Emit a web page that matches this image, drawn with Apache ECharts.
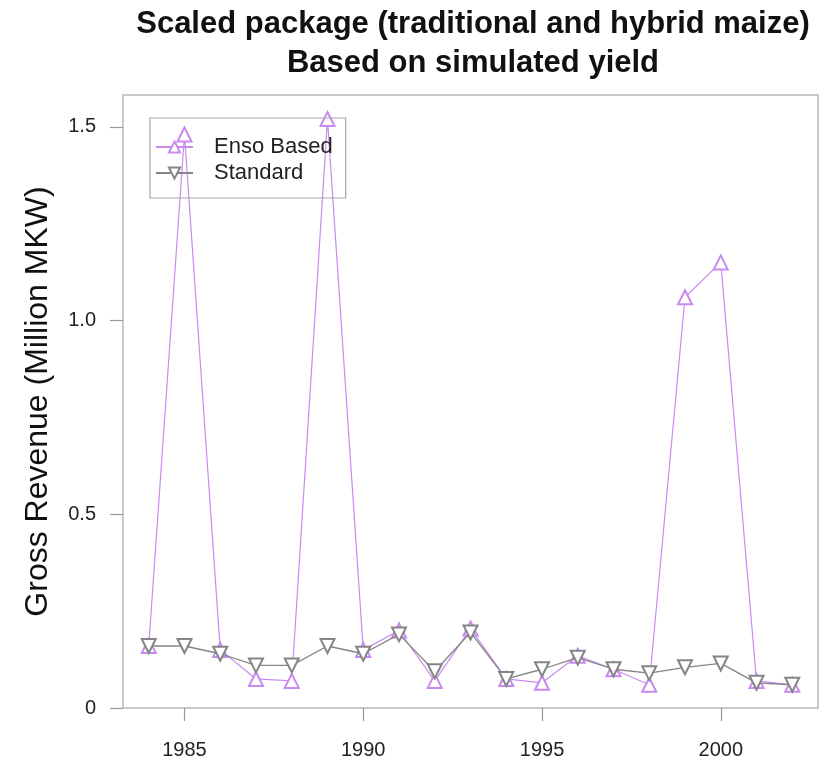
<!DOCTYPE html>
<html>
<head>
<meta charset="utf-8">
<script src="https://cdn.jsdelivr.net/npm/echarts@6/dist/echarts.min.js"></script>
<style>
  html, body { margin: 0; padding: 0; background: #fff; }
  #chart { width: 832px; height: 766px; }
</style>
</head>
<body>
<div id="chart"></div>
<script>
// Gross revenue per season, million MKW
const years = [1984, 1985, 1986, 1987, 1988, 1989, 1990, 1991, 1992, 1993,
               1994, 1995, 1996, 1997, 1998, 1999, 2000, 2001, 2002];
const ensoBased = [0.16, 1.48, 0.15, 0.075, 0.07, 1.52, 0.15, 0.20, 0.07, 0.205,
                   0.075, 0.065, 0.135, 0.10, 0.06, 1.06, 1.15, 0.07, 0.06];
const standard  = [0.16, 0.16, 0.14, 0.11, 0.11, 0.16, 0.14, 0.19, 0.095, 0.195,
                   0.075, 0.10, 0.13, 0.10, 0.09, 0.105, 0.115, 0.065, 0.06];
const xTicks = [1985, 1990, 1995, 2000];
const yTicks = [0, 0.5, 1.0, 1.5];

const FONT = 'Liberation Sans, Arial, Helvetica, sans-serif';
const ENSO_COLOR = '#c98af0';
const STD_COLOR = '#858585';

const pairs = (vals) => years.map((y, i) => [y, vals[i]]);

const chart = echarts.init(document.getElementById('chart'), null, { renderer: 'canvas' });

chart.setOption({
  backgroundColor: '#ffffff',
  animation: false,
  textStyle: { fontFamily: FONT },
  graphic: [
    {
      type: 'text', x: 473, y: 24,
      style: {
        text: 'Scaled package (traditional and hybrid maize)',
        font: 'bold 31px ' + FONT, fill: '#111',
        align: 'center', verticalAlign: 'middle'
      }
    },
    {
      type: 'text', x: 473, y: 63,
      style: {
        text: 'Based on simulated yield',
        font: 'bold 31px ' + FONT, fill: '#111',
        align: 'center', verticalAlign: 'middle'
      }
    }
  ],
  grid: {
    left: 123, top: 95, width: 695, height: 613,
    show: true, borderColor: '#b8b8b8', borderWidth: 1.5, backgroundColor: 'transparent'
  },
  legend: {
    orient: 'vertical',
    left: 150, top: 118,
    padding: [18, 13, 14, 5],
    itemGap: 4,
    itemWidth: 37, itemHeight: 14,
    borderColor: '#a8a8a8', borderWidth: 1.2,
    textStyle: { fontSize: 22, color: '#222', fontFamily: FONT, padding: [0, 0, 0, 16] },
    data: ['Enso Based', 'Standard']
  },
  xAxis: {
    type: 'value',
    min: 1983.28, max: 2002.72,
    axisLine: { show: false },
    splitLine: { show: false },
    axisTick: {
      show: true, customValues: xTicks, length: 13,
      lineStyle: { color: '#999', width: 1.2 }
    },
    axisLabel: {
      customValues: xTicks, margin: 32,
      fontSize: 20, color: '#222', fontFamily: FONT,
      formatter: (v) => String(v)
    }
  },
  yAxis: {
    type: 'value',
    min: 0, max: 1.582,
    name: 'Gross Revenue (Million MKW)',
    nameLocation: 'middle',
    nameRotate: 90,
    nameGap: 69,
    nameTextStyle: { fontSize: 32, color: '#111', fontFamily: FONT },
    axisLine: { show: false },
    splitLine: { show: false },
    axisTick: {
      show: true, customValues: yTicks, length: 13,
      lineStyle: { color: '#999', width: 1.2 }
    },
    axisLabel: {
      customValues: yTicks, margin: 27,
      fontSize: 20, color: '#222', fontFamily: FONT,
      formatter: (v) => (v === 0 ? '0' : v.toFixed(1))
    }
  },
  series: [
    {
      name: 'Enso Based',
      type: 'line',
      data: pairs(ensoBased),
      symbol: 'emptyTriangle',
      symbolSize: 14,
      lineStyle: { color: ENSO_COLOR, width: 1.2 },
      itemStyle: { color: ENSO_COLOR, borderColor: ENSO_COLOR, borderWidth: 1.3 },
      z: 2
    },
    {
      name: 'Standard',
      type: 'line',
      data: pairs(standard),
      symbol: 'emptyTriangle',
      symbolRotate: 180,
      symbolSize: 14,
      lineStyle: { color: STD_COLOR, width: 1.3 },
      itemStyle: { color: STD_COLOR, borderColor: STD_COLOR, borderWidth: 1.3 },
      z: 3
    }
  ]
});
</script>
</body>
</html>
